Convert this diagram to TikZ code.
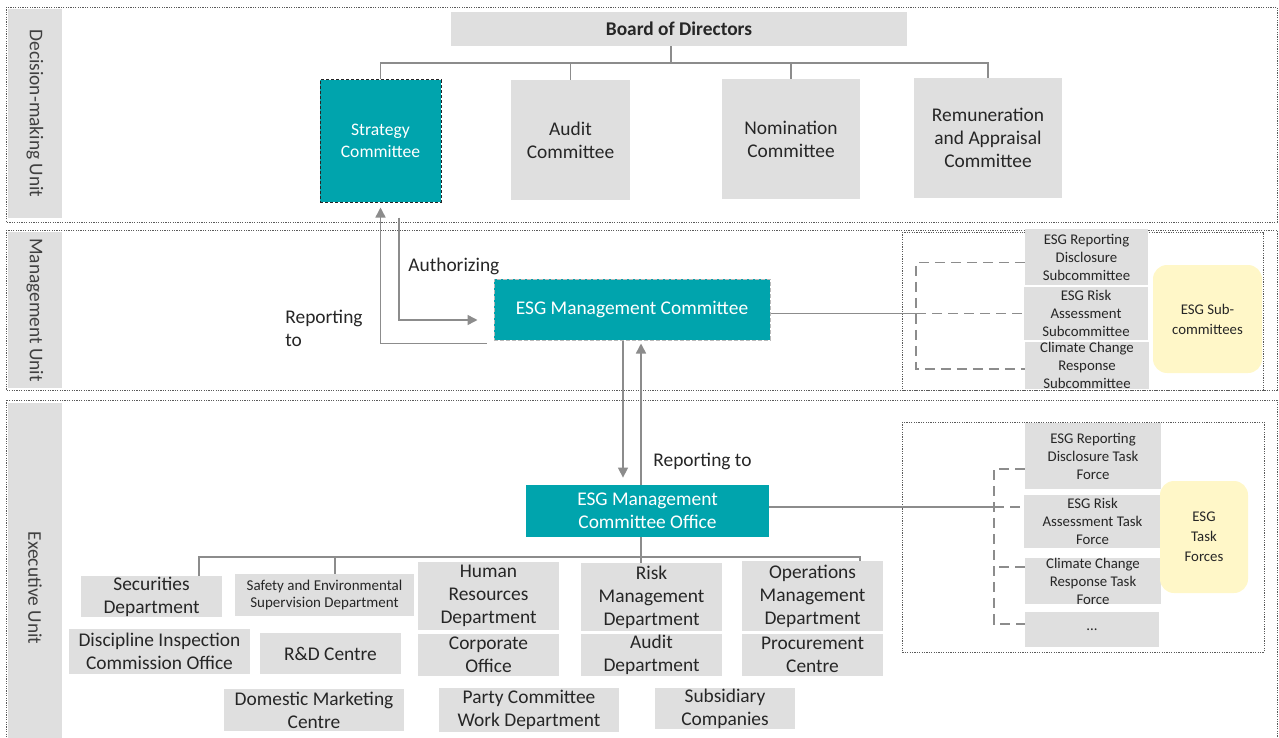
\documentclass[tikz,border=0pt]{standalone}
\usepackage{fontspec}
\setmainfont{Carlito}
\usetikzlibrary{arrows.meta,calc}

\definecolor{esgteal}{RGB}{0,164,173}
\definecolor{boxgray}{RGB}{223,223,223}
\definecolor{esgyellow}{RGB}{255,247,200}
\definecolor{linegray}{RGB}{140,140,140}
\definecolor{framegray}{RGB}{90,90,90}
\definecolor{txt}{RGB}{38,38,38}

\begin{document}
\begin{tikzpicture}[x=0.5pt,y=-0.5pt,
  inbox/.style args={#1/#2/#3/#4}{at={({(#1+#3)/2},{(#2+#4)/2})},
    minimum width={(#3-#1)*0.5pt},minimum height={(#4-#2)*0.5pt}},
  gbox/.style={fill=boxgray,inner sep=0pt,align=center,text=txt,font=\fontsize{9.7}{11.5}\selectfont},
  sbox/.style={gbox,font=\fontsize{7.4}{9}\selectfont},
  tbox/.style={fill=esgteal,inner sep=0pt,align=center,text=white,font=\fontsize{9.7}{11.5}\selectfont},
  ybox/.style={fill=esgyellow,rounded corners=7pt,inner sep=0pt,align=center,text=txt,font=\fontsize{7.4}{10}\selectfont},
  ubox/.style={fill=boxgray,inner sep=0pt,text=black!75,font=\fontsize{9.7}{11.5}\selectfont},
  frame/.style={draw=framegray,line width=0.4pt,dash pattern=on 0.6pt off 0.6pt},
  note/.style={inner sep=0pt,text=txt,font=\fontsize{9.7}{11.5}\selectfont},
  conn/.style={draw=linegray,line width=0.75pt},
  arr/.style={conn,-{Triangle[length=5pt,width=5pt]}},
  dconn/.style={conn,dash pattern=on 5pt off 3pt}]
\useasboundingbox (0,0) rectangle (1279,738);

% unit frames
\draw[frame] (6,7) rectangle (1277,222);
\draw[frame] (6,230) rectangle (1277,390);
\draw[frame] (6,400) rectangle (1277,780);
\node[ubox,inbox={8/9/62/218}] (udec) {};
\node[ubox,rotate=-90] at (udec) {Decision-making Unit};
\node[ubox,inbox={8/232/62/388}] (umgt) {};
\node[ubox,rotate=-90] at (umgt) {Management Unit};
\node[ubox,inbox={8/403/62/773}] (uexe) {};
\node[ubox,rotate=-90] at (uexe) {Executive Unit};

% decision-making unit
\node[gbox,font=\fontsize{9.7}{11.5}\selectfont\bfseries,inbox={451/12/907/46}] (board) {Board of Directors};
\node[tbox,draw=black!85,line width=0.5pt,dash pattern=on 1.5pt off 1pt,font=\fontsize{8.8}{11}\selectfont,inbox={320/80/441/202}] (strat) {Strategy\\Committee};
\node[gbox,inbox={511/80/630/200}] (audit) {Audit\\Committee};
\node[gbox,inbox={722/79/860/199}] (nomi) {Nomination\\Committee};
\node[gbox,inbox={914/78/1062/198}] (remu) {Remuneration\\and Appraisal\\Committee};

\coordinate (bbus) at (671,63);
\draw[conn] (board.south -| bbus) -- (bbus);
\foreach \n in {strat,audit,nomi,remu}
  \draw[conn] (bbus) -| (\n.north);

% management unit
\node[tbox,draw=gray!55,line width=0.5pt,dash pattern=on 2pt off 1pt,inbox={494/279/770/340}] (mgmt) {ESG Management Committee};
\node[note,anchor=west] (lauth) at (408,266) {Authorizing};
\node[note,anchor=west,align=left] (lrep) at (285,328) {Reporting\\to};
\draw[arr] ([xshift=-3.5pt,yshift=-1.5pt]mgmt.south west) -| ([yshift=-2.5pt]strat.south);
\draw[arr] ([xshift=9.25pt,yshift=-7.5pt]strat.south) |- ([xshift=-8pt,yshift=-5.25pt]mgmt.west);

\draw[frame] (902,232) rectangle (1263,390);
\node[sbox,inbox={1025/229/1148/285}] (srep) {ESG Reporting\\Disclosure\\Subcommittee};
\node[sbox,inbox={1024/287/1148/340}] (srisk) {ESG Risk\\Assessment\\Subcommittee};
\node[sbox,inbox={1025/343/1149/388}] (sclim) {Climate Change\\Response\\Subcommittee};
\node[ybox,inbox={1153/265/1262/373}] (ssub) {ESG Sub-\\committees};

\coordinate (sj) at (916,313.5);
\draw[conn] ([yshift=-2pt]mgmt.east) -- (sj);
\draw[dconn] ([yshift=-2.75pt]srep.west) -| (sj) |- ([yshift=-1.75pt]sclim.west);
\draw[dconn] (sj) -- (srisk.west);

% executive unit
\node[tbox,inbox={526/485/769/537}] (office) {ESG Management\\Committee Office};
\node[note,anchor=west] (lrep2) at (653,461) {Reporting to};
\coordinate (xdown) at (623,0);
\coordinate (xup) at (641,0);
\draw[arr,shorten >=3.5pt] (mgmt.south -| xdown) -- (office.north -| xdown);
\draw[arr,shorten >=1.5pt] (office.north -| xup) -- (mgmt.south -| xup);

\draw[frame] (902,422) rectangle (1264,652);
\node[sbox,inbox={1025/423/1161/489}] (trep) {ESG Reporting\\Disclosure Task\\Force};
\node[sbox,inbox={1024/495/1161/548}] (trisk) {ESG Risk\\Assessment Task\\Force};
\node[sbox,inbox={1025/558/1161/604}] (tclim) {Climate Change\\Response Task\\Force};
\node[sbox,inbox={1025/612/1159/647}] (tdots) {...};
\node[ybox,inbox={1160/481/1248/593}] (tforce) {ESG\\Task\\Forces};

\coordinate (tj) at (994,507);
\draw[conn] ([yshift=2pt]office.east) -- (tj);
\draw[dconn] ([yshift=-6.5pt]trep.west) -| (tj) |- ([yshift=2.75pt]tdots.west);
\draw[dconn] (tj) -- (trisk.west |- tj);
\draw[dconn] ([yshift=7pt]tclim.west) -- ++(-15.5pt,0);

% departments
\node[gbox,inbox={81/576/222/617}] (sec) {Securities\\Department};
\node[gbox,font=\fontsize{7.5}{8.5}\selectfont,inbox={235/574/414/616}] (safe) {Safety and Environmental\\Supervision Department};
\node[gbox,inbox={418/562/559/630}] (hr) {Human\\Resources\\Department};
\node[gbox,inbox={581/563/722/631}] (risk) {Risk\\Management\\Department};
\node[gbox,inbox={742/561/883/631}] (ops) {Operations\\Management\\Department};
\node[gbox,inbox={69/629/250/674}] (disc) {Discipline Inspection\\Commission Office};
\node[gbox,inbox={260/633/401/674}] (rnd) {R\&D Centre};
\node[gbox,inbox={418/634/559/676}] (corp) {Corporate\\Office};
\node[gbox,inbox={581/634/722/676}] (adep) {Audit\\Department};
\node[gbox,inbox={742/634/883/676}] (proc) {Procurement\\Centre};
\node[gbox,inbox={224/689/404/731}] (dom) {Domestic Marketing\\Centre};
\node[gbox,inbox={439/688/619/732}] (party) {Party Committee\\Work Department};
\node[gbox,inbox={655/688/795/729}] (subs) {Subsidiary\\Companies};

\coordinate (obus) at (641,557);
\coordinate (xsec) at (199,0);
\coordinate (xsafe) at (335,0);
\coordinate (xops) at (860,0);
\draw[conn] (office.south -| obus) -- (obus) -- (risk.north -| obus);
\draw[conn] (obus) -| (sec.north -| xsec);
\draw[conn] (obus) -| (safe.north -| xsafe);
\draw[conn] (obus) -| (ops.north -| xops);
\end{tikzpicture}
\end{document}
